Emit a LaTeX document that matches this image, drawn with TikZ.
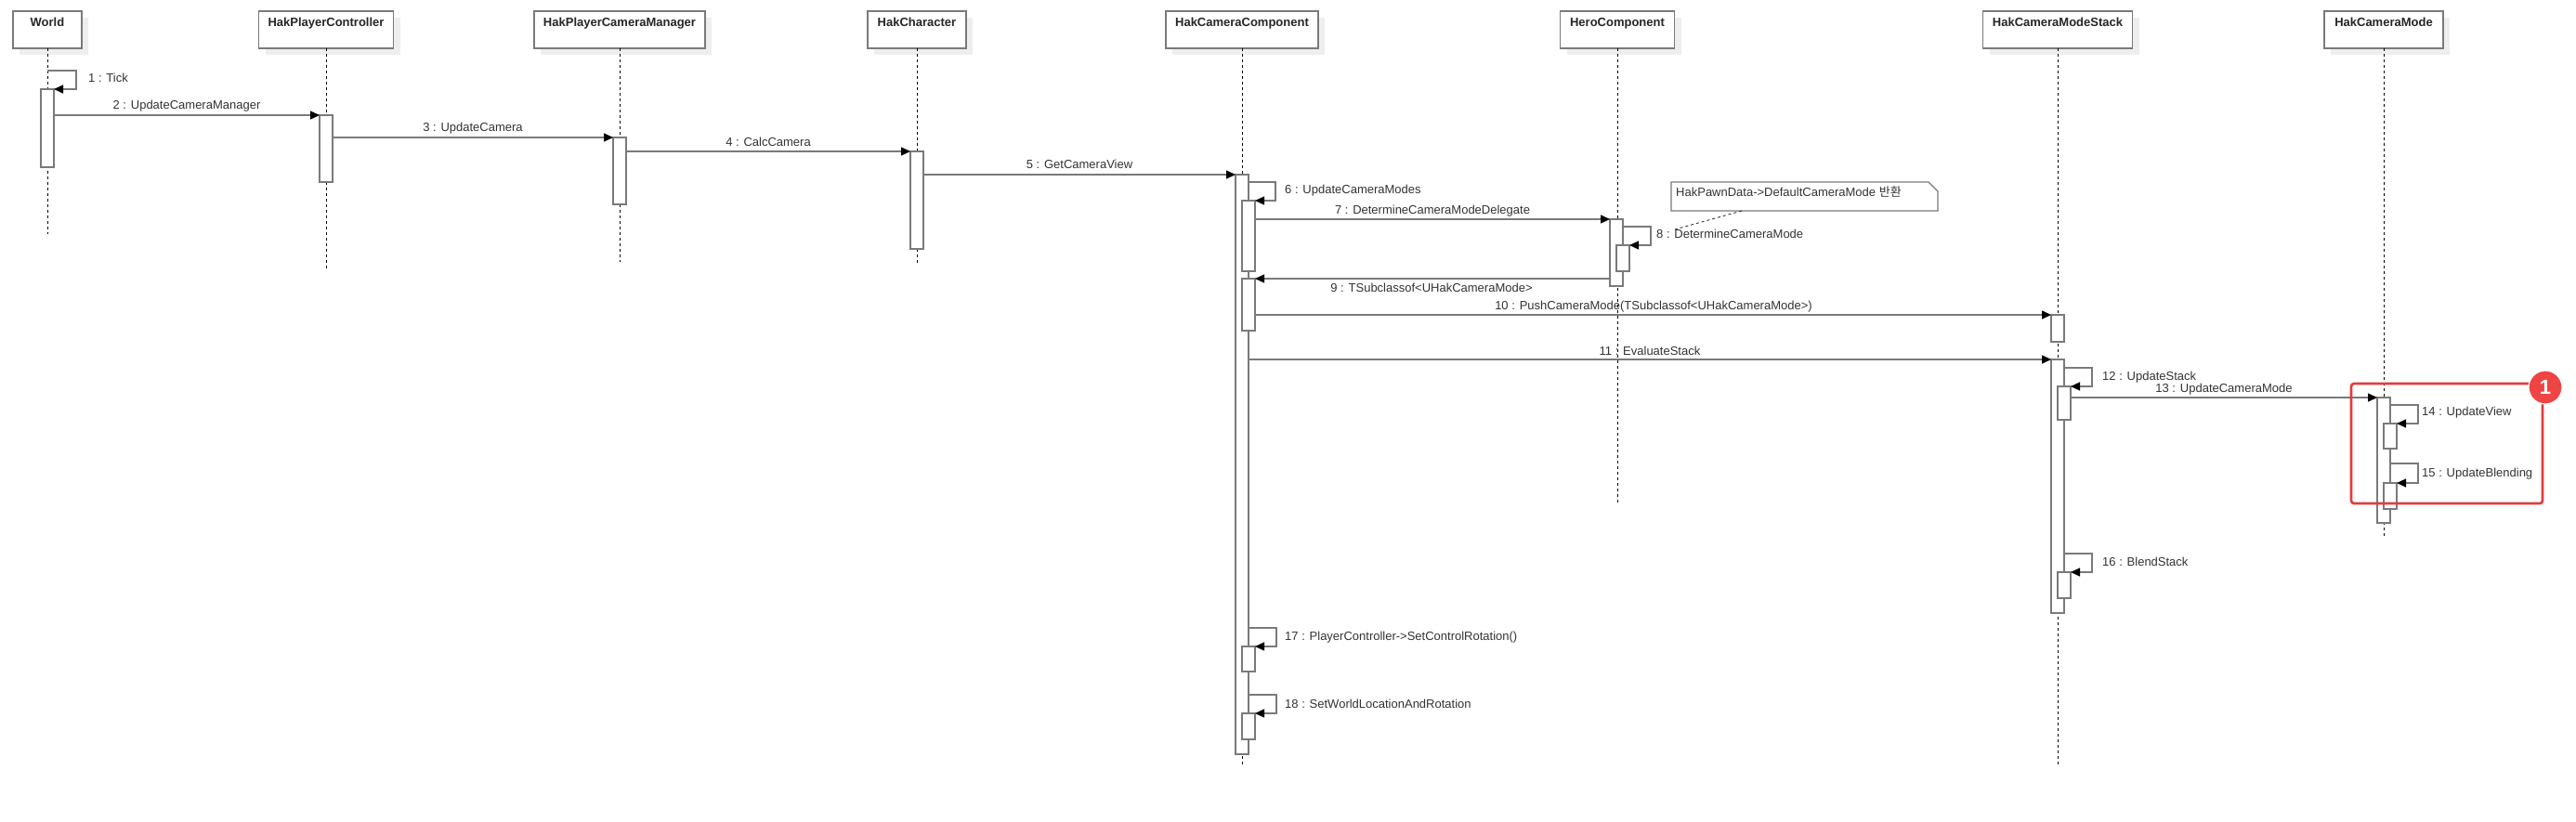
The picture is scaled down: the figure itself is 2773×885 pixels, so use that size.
\documentclass[tikz,border=0pt]{standalone}
\usepackage{fontspec}
\setmainfont{Liberation Sans}
\newfontfamily\krfont{Noto Sans CJK KR}
\usetikzlibrary{arrows.meta,shadows}
\definecolor{ln}{RGB}{122,122,122}
\definecolor{tx}{RGB}{51,51,51}
\definecolor{hlred}{RGB}{226,60,62}
\definecolor{badgered}{RGB}{239,68,68}
\definecolor{shd}{RGB}{238,238,238}
\tikzset{
 headbox/.style={draw=ln, line width=1.3pt, fill=white, minimum height=40pt, inner sep=0pt, outer sep=0pt,
   drop shadow={shadow xshift=7pt, shadow yshift=-7pt, fill=shd, opacity=1}},
 headtxt/.style={font=\bfseries\fontsize{13}{15}\selectfont, text=black!85, inner sep=0pt, anchor=base},
 life/.style={black, line width=0.9pt, dash pattern=on 3pt off 3pt},
 actbox/.style={draw=ln, line width=1.3pt, fill=white, minimum width=14pt, inner sep=0pt, outer sep=0pt},
 msg/.style={draw=ln, line width=1.3pt, -{Triangle[length=10pt,width=9pt,color=black,fill=black]}},
 lbl/.style={font=\fontsize{13}{15}\selectfont, text=tx, inner sep=0pt, anchor=base},
 lbll/.style={lbl, anchor=base west},
 noteshape/.style={draw=ln, line width=1.3pt, fill=white},
 notelink/.style={draw=tx, line width=0.9pt, dash pattern=on 3pt off 3pt},
 hlbox/.style={draw=hlred, line width=2.6pt, rounded corners=3pt, minimum width=206pt, minimum height=129pt, inner sep=0pt},
 badge/.style={circle, fill=badgered, draw=white, line width=1.2pt, minimum size=36pt, inner sep=0pt,
   text=white, font=\bfseries\fontsize{22}{24}\selectfont},
}
\newcommand\actv[4]{\node[actbox, minimum height={(#4-#3)*1pt}] (#1) at (#2,{(#3+#4)/2}) {};}
\begin{document}
\begin{tikzpicture}[x=1pt,y=-1pt]
\fill[white] (0,0) rectangle (2773,885);
\useasboundingbox (0,0) rectangle (2773,885);

% header boxes
\node[headbox, minimum width=74pt]  (world) at (51,32) {};
\node[headbox, minimum width=145pt] (pc)    at (351,32) {};
\node[headbox, minimum width=184pt] (pcm)   at (667,32) {};
\node[headbox, minimum width=106pt] (ch)    at (987,32) {};
\node[headbox, minimum width=164pt] (cc)    at (1337,32) {};
\node[headbox, minimum width=123pt] (hr)    at (1741,32) {};
\node[headbox, minimum width=161pt] (st)    at (2215,32) {};
\node[headbox, minimum width=128pt] (mo)    at (2566,32) {};
\node[headtxt] (worldt) at (51,29) {World};
\node[headtxt] (pct)    at (351,29) {HakPlayerController};
\node[headtxt] (pcmt)   at (667,29) {HakPlayerCameraManager};
\node[headtxt] (cht)    at (987,29) {HakCharacter};
\node[headtxt] (cct)    at (1337,29) {HakCameraComponent};
\node[headtxt] (hrt)    at (1741,29) {HeroComponent};
\node[headtxt] (stt)    at (2215,29) {HakCameraModeStack};
\node[headtxt] (mot)    at (2566,29) {HakCameraMode};

% lifelines
\coordinate (worlde) at (51,252);
\coordinate (pce)    at (351,290);
\coordinate (pcme)   at (667,282);
\coordinate (che)    at (987,284);
\coordinate (cce)    at (1337,823);
\coordinate (hre)    at (1741,543);
\coordinate (ste)    at (2215,823);
\coordinate (moe)    at (2566,577);
\draw[life] (world.south) -- (worlde);
\draw[life] (pc.south) -- (pce);
\draw[life] (pcm.south) -- (pcme);
\draw[life] (ch.south) -- (che);
\draw[life] (cc.south) -- (cce);
\draw[life] (hr.south) -- (hre);
\draw[life] (st.south) -- (ste);
\draw[life] (mo.south) -- (moe);

% activations
\actv{wa}{51}{96}{180}
\actv{pca}{351}{124}{196}
\actv{pcma}{667}{148}{220}
\actv{cha}{987}{163}{268}
\actv{cca}{1337}{188}{812}
\actv{ccn1}{1344}{216}{292}
\actv{ccn2}{1344}{300}{356}
\actv{ccn3}{1344}{696}{723}
\actv{ccn4}{1344}{768}{796}
\actv{hra}{1740}{236}{308}
\actv{hrn}{1747}{264}{292}
\actv{sta1}{2215}{339}{368}
\actv{sta2}{2215}{387}{660}
\actv{stn1}{2222}{416}{452}
\actv{stn2}{2222}{616}{644}
\actv{moa}{2566}{428}{563}
\actv{mon1}{2573}{456}{483}
\actv{mon2}{2573}{520}{548}

% messages
\draw[msg] (world.south |- 0,76) -- ++(31,0) |- (wa.north east);
\draw[msg] (wa.east |- 0,124) -- (pca.north west);
\draw[msg] (pca.east |- 0,148) -- (pcma.north west);
\draw[msg] (pcma.east |- 0,163) -- (cha.north west);
\draw[msg] (cha.east |- 0,188) -- (cca.north west);
\draw[msg] (cca.east |- 0,196) -- ++(29,0) |- (ccn1.north east);
\draw[msg] (ccn1.east |- 0,236) -- (hra.north west);
\draw[msg] (hra.east |- 0,244) -- ++(30,0) |- (hrn.north east);
\draw[msg] (hra.west |- 0,300) -- (ccn2.north east);
\draw[msg] (ccn2.east |- 0,339) -- (sta1.north west);
\draw[msg] (cca.east |- 0,387) -- (sta2.north west);
\draw[msg] (sta2.east |- 0,396) -- ++(30,0) |- (stn1.north east);
\draw[msg] (stn1.east |- 0,428) -- (moa.north west);
\draw[msg] (moa.east |- 0,436) -- ++(30,0) |- (mon1.north east);
\draw[msg] (moa.east |- 0,499) -- ++(30,0) |- (mon2.north east);
\draw[msg] (sta2.east |- 0,596) -- ++(30,0) |- (stn2.north east);
\draw[msg] (cca.east |- 0,676) -- ++(30,0) |- (ccn3.north east);
\draw[msg] (cca.east |- 0,748) -- ++(30,0) |- (ccn4.north east);

% labels
\node[lbll] (l1) at (95,89) {1 : Tick};
\node[lbl] (l2) at (201,118) {2 : UpdateCameraManager};
\node[lbl] (l3) at (509,142) {3 : UpdateCamera};
\node[lbl] (l4) at (827,158) {4 : CalcCamera};
\node[lbl] (l5) at (1162,182) {5 : GetCameraView};
\node[lbll] (l6) at (1383,209) {6 : UpdateCameraModes};
\node[lbl] (l7) at (1542,231) {7 : DetermineCameraModeDelegate};
\node[lbll] (l8) at (1783,257) {8 : DetermineCameraMode};
\node[lbl] (l9) at (1541,314) {9 : TSubclassof<UHakCameraMode>};
\node[lbl] (l10) at (1780,334) {10 : PushCameraMode(TSubclassof<UHakCameraMode>)};
\node[lbl] (l11) at (1776,382) {11 : EvaluateStack};
\node[lbll] (l12) at (2263,409) {12 : UpdateStack};
\node[lbl] (l13) at (2394,422) {13 : UpdateCameraMode};
\node[lbll] (l14) at (2607,447) {14 : UpdateView};
\node[lbll] (l15) at (2607,513) {15 : UpdateBlending};
\node[lbll] (l16) at (2263,609) {16 : BlendStack};
\node[lbll] (l17) at (1383,689) {17 : PlayerController->SetControlRotation()};
\node[lbll] (l18) at (1383,762) {18 : SetWorldLocationAndRotation};

% note
\draw[noteshape] (1799,196) -- (2076,196) -- (2086,206) -- (2086,227) -- (1799,227) -- cycle;
\node[lbll] (note) at (1804,212) {HakPawnData->DefaultCameraMode {\krfont 반환}};
\coordinate (nb) at (1875,227);
\coordinate (nt) at (1803,247);
\draw[notelink] (nb) -- (nt);

% highlight
\node[hlbox] (hl) at (2634,477.5) {};
\node[badge] (b1) at (2740,417) {1};
\end{tikzpicture}
\end{document}
